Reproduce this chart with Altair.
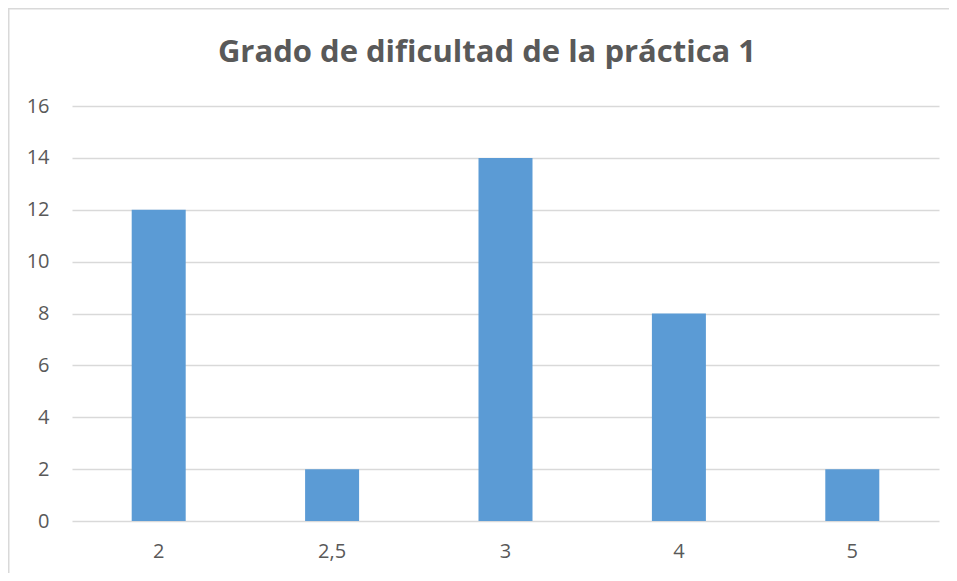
import altair as alt
import pandas as pd

categories = ["2", "2,5", "3", "4", "5"]
counts = [12, 2, 14, 8, 2]
y_ticks = [0, 2, 4, 6, 8, 10, 12, 14, 16]
title_text = "Grado de dificultad de la práctica 1"

df = pd.DataFrame({"grado": categories, "n": counts})

FONT = "Open Sans"
GRAY = "#595959"
FRAME = "#d9d9d9"

bars = alt.Chart(df).mark_bar(size=54, color="#5b9bd5").encode(
    x=alt.X("grado:N", sort=categories, title=None,
            scale=alt.Scale(paddingInner=0, paddingOuter=0),
            axis=alt.Axis(labelAngle=0, domain=False, ticks=False, tickSize=0,
                          labelPadding=20, labelFontSize=20, labelColor=GRAY,
                          labelFont=FONT, grid=False)),
    y=alt.Y("n:Q", title=None,
            scale=alt.Scale(domain=[0, 16], nice=False),
            axis=alt.Axis(values=y_ticks, domain=False, ticks=False, tickSize=0,
                          labelPadding=23, labelFontSize=20, labelColor=GRAY,
                          labelFont=FONT, grid=True, gridColor=FRAME,
                          gridWidth=1.3)),
)

one = pd.DataFrame({"a": [0]})
top_line = alt.Chart(one).mark_rect(fill=FRAME, strokeWidth=0).encode(
    x=alt.value(-64), x2=alt.value(877), y=alt.value(-98), y2=alt.value(-96.5)
)
left_line = alt.Chart(one).mark_rect(fill=FRAME, strokeWidth=0).encode(
    x=alt.value(-64), x2=alt.value(-62.5), y=alt.value(-98), y2=alt.value(467)
)

title = alt.Chart(pd.DataFrame({"t": [title_text]})).mark_text(
    font=FONT, fontSize=31, fontWeight="bold", color=GRAY,
    align="center", baseline="alphabetic"
).encode(
    text="t:N", x=alt.value(415), y=alt.value(-44)
)

chart = alt.layer(top_line, left_line, bars, title).properties(
    width=867, height=415,
    background="white",
    autosize=alt.AutoSizeParams(type="none"),
    padding={"left": 64, "top": 98, "right": 10, "bottom": 52},
).configure_view(stroke="transparent", strokeWidth=0)

chart.save("out.html", embed_options={"renderer": "svg", "actions": False})
